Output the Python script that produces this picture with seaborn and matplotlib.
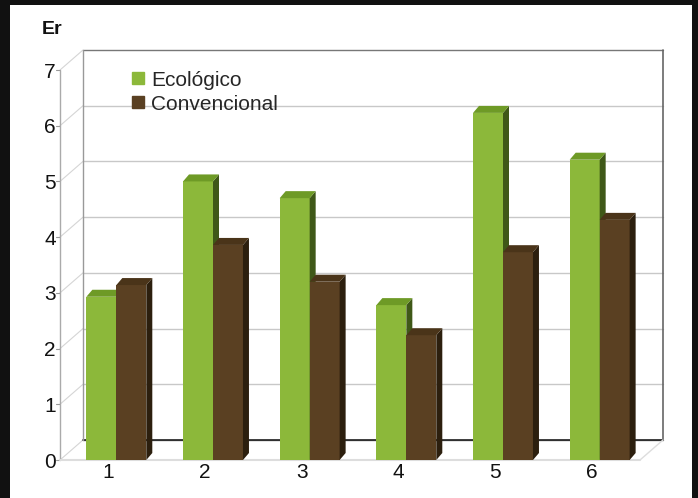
import pandas as pd
import matplotlib.pyplot as plt
import seaborn as sns
from matplotlib.patches import Polygon, Rectangle
from matplotlib.lines import Line2D

# Values
categorias = ['1', '2', '3', '4', '5', '6']
ecologico = [2.93, 5.0, 4.7, 2.78, 6.23, 5.39]
convencional = [3.14, 3.86, 3.2, 2.24, 3.73, 4.31]
y_ticks = [0, 1, 2, 3, 4, 5, 6, 7]

verde = '#8cb83a'
marron = '#5a4022'
caras = {verde: ('#6e9a26', '#3f5818'), marron: ('#4a3419', '#2c1f0e')}

df = pd.DataFrame({
    'cat': categorias * 2,
    'val': ecologico + convencional,
    'serie': ['Ecológico'] * 6 + ['Convencional'] * 6,
})

sns.set_style('white')
plt.rcParams['font.family'] = ['Liberation Sans', 'DejaVu Sans']

fig = plt.figure(figsize=(6.98, 4.98), dpi=100)
fig.patch.set_facecolor('#111111')
# white panel inside the black frame
fig.patches.append(Rectangle((10 / 698, 0), 682 / 698, 493 / 498, transform=fig.transFigure,
                             facecolor='white', edgecolor='none', zorder=-1))

W, H = 580, 390
ax = fig.add_axes([60 / 698, 1 - 460 / 498, W / 698, H / 498])
ax.set_zorder(1)
ax.set_facecolor('none')

sns.barplot(data=df, x='cat', y='val', hue='serie', palette=[verde, marron],
            width=0.62, saturation=1, linewidth=0, ax=ax, legend=False, zorder=3)
ax.set_xlim(-0.5, 5.5)
ax.set_ylim(0, 7)

# pixel -> data conversions
px = 6 / W
py = 7 / H
wx, wy = 23 * px, 20 * py   # depth of the walls
bx, by = 6 * px, 7 * py     # depth of the bars

# back wall, side wall and floor
for k in y_ticks:
    c = '#c8c8c8' if 0 < k < 7 else '#777777'
    ax.plot([-0.5 + wx, 5.5 + wx], [k + wy, k + wy], color=c, lw=1, clip_on=False, zorder=1)
    ax.plot([-0.5, -0.5 + wx], [k, k + wy], color='#d5d5d5', lw=0.8, clip_on=False, zorder=1)
    ax.plot([-0.5 - 4 * px, -0.5], [k, k], color='#999999', lw=0.8, clip_on=False, zorder=1)
ax.plot([-0.5 + wx, 5.5 + wx], [wy, wy], color='#222222', lw=1.2, clip_on=False, zorder=1)
ax.plot([-0.5 + wx] * 2, [wy, 7 + wy], color='#999999', lw=1, clip_on=False, zorder=1)
ax.plot([5.5 + wx] * 2, [wy, 7 + wy], color='#666666', lw=1.2, clip_on=False, zorder=1)
ax.plot([-0.5, -0.5], [0, 7], color='#aaaaaa', lw=1, clip_on=False, zorder=1)
ax.plot([-0.5, 5.5], [0, 0], color='#dddddd', lw=1.5, clip_on=False, zorder=1)
ax.plot([5.5, 5.5 + wx], [0, wy], color='#dddddd', lw=1, clip_on=False, zorder=1)

# 3D faces on each bar
for p in list(ax.patches):
    p.set_x(p.get_x() + 8 * px)
    x, w, h = p.get_x(), p.get_width(), p.get_height()
    col = verde if abs(p.get_facecolor()[1] - 0.72) < 0.05 else marron
    top, side = caras[col]
    z = 3 if col == verde else 4
    p.set_zorder(z)
    ax.add_patch(Polygon([(x + w, 0), (x + w + bx, by), (x + w + bx, h + by), (x + w, h)],
                         closed=True, facecolor=side, edgecolor='none', zorder=z))
    ax.add_patch(Polygon([(x, h), (x + bx, h + by), (x + w + bx, h + by), (x + w, h)],
                         closed=True, facecolor=top, edgecolor='none', zorder=z))

sns.despine(ax=ax, left=True, bottom=True)
ax.set_xlabel('')
ax.set_ylabel('')
ax.set_yticks(y_ticks)
ax.set_yticklabels([str(t) for t in y_ticks])
ax.tick_params(axis='both', length=0, labelsize=15, colors='#111111')
ax.tick_params(axis='y', pad=3)
ax.tick_params(axis='x', pad=2)
ax.grid(False)

handles = [Line2D([], [], marker='s', linestyle='none', markersize=8, color=verde),
           Line2D([], [], marker='s', linestyle='none', markersize=8, color=marron)]
ax.legend(handles, ['Ecológico', 'Convencional'], loc='upper left',
          bbox_to_anchor=(0.11, 1.02), frameon=False, fontsize=15,
          handlelength=0.6, handletextpad=0.3, labelspacing=0.25, borderaxespad=0)

fig.text(42 / 698, 1 - 30 / 498, 'Er', fontsize=14, fontweight='bold', va='center',
         ha='left', color='#111111')

fig.savefig('out.png', dpi=100, facecolor=fig.get_facecolor())
